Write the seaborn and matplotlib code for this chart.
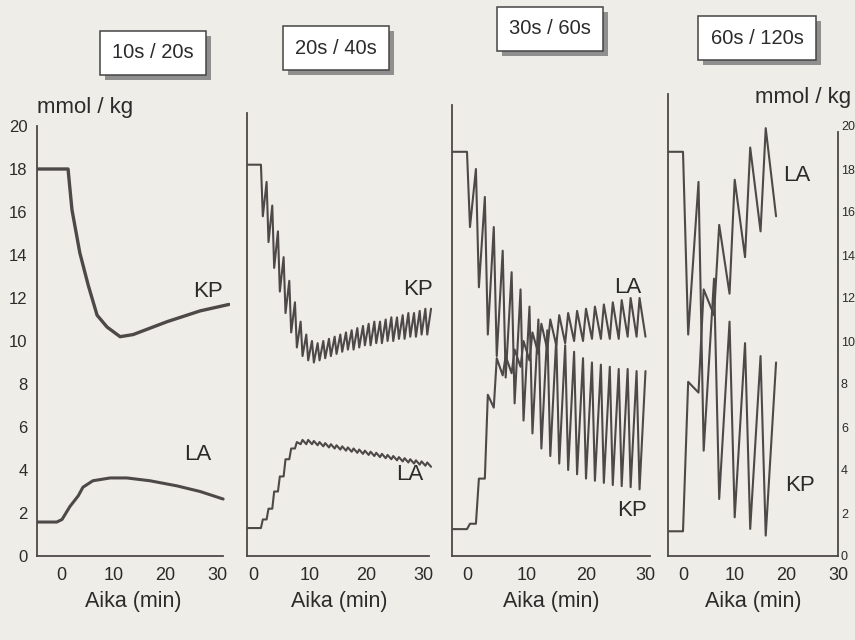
import matplotlib
matplotlib.use("Agg")
import matplotlib.pyplot as plt
import pandas as pd
import seaborn as sns
from matplotlib.patches import Rectangle
from matplotlib.ticker import MultipleLocator, FuncFormatter


# -------------------------
# Data (min, mmol/kg)
# -------------------------
panel_titles = ["10s / 20s", "20s / 40s", "30s / 60s", "60s / 120s"]
protocols = [(10 / 60, 20 / 60), (20 / 60, 40 / 60), (30 / 60, 60 / 60), (60 / 60, 120 / 60)]

# 10s / 20s: drawn as smooth curves
p1_kp_t = [-4.5, 1.35, 1.7, 2.1, 3.6, 5.2, 6.9, 8.8, 11.3, 13.8, 20.3, 26.6, 32.1]
p1_kp_v = [18.0, 18.0, 17.1, 16.1, 14.1, 12.6, 11.2, 10.65, 10.2, 10.3, 10.9, 11.4, 11.7]
p1_la_t = [-4.5, -0.8, 0.2, 1.7, 3.3, 4.2, 6.1, 9.4, 12.6, 17.0, 22.2, 26.6, 31.0]
p1_la_v = [1.58, 1.58, 1.7, 2.3, 2.8, 3.2, 3.5, 3.63, 3.63, 3.5, 3.26, 3.0, 2.65]

# 20s / 40s: values at end of each work bout / each rest bout
p2_start = 1.4
p2_kp0, p2_la0 = 18.2, 1.3
p2_kp_work = [15.8, 14.6, 13.4, 12.3, 11.3, 10.4, 9.7, 9.3, 9.1, 9.0, 9.1, 9.2, 9.3, 9.4, 9.5,
              9.6, 9.6, 9.7, 9.8, 9.8, 9.9, 9.9, 10.0, 10.0, 10.1, 10.1, 10.2, 10.2, 10.3, 10.3]
p2_kp_rest = [17.4, 16.3, 15.1, 13.9, 12.8, 11.8, 10.9, 10.3, 10.0, 9.9, 10.0, 10.1, 10.2, 10.3, 10.4,
              10.5, 10.6, 10.7, 10.8, 10.9, 10.9, 11.0, 11.1, 11.1, 11.2, 11.3, 11.3, 11.4, 11.5, 11.5]
p2_la_work = [1.7, 2.2, 3.0, 3.7, 4.5, 5.0, 5.3, 5.4, 5.4, 5.35, 5.3, 5.25, 5.2, 5.15, 5.1,
              5.05, 5.0, 4.95, 4.9, 4.85, 4.8, 4.75, 4.7, 4.65, 4.6, 4.55, 4.5, 4.45, 4.4, 4.35]
p2_la_rest = [1.7, 2.2, 3.0, 3.7, 4.5, 5.0, 5.2, 5.2, 5.2, 5.15, 5.1, 5.05, 5.0, 4.95, 4.9,
              4.85, 4.8, 4.75, 4.7, 4.65, 4.6, 4.55, 4.5, 4.45, 4.4, 4.35, 4.3, 4.25, 4.2, 4.15]

# 30s / 60s
p3_start = 0.0
p3_kp0, p3_la0 = 18.8, 1.25
p3_kp_work = [15.3, 12.5, 10.3, 9.3, 8.3, 7.1, 6.3, 5.7, 5.0, 4.65,
              4.3, 4.0, 3.8, 3.6, 3.5, 3.4, 3.3, 3.25, 3.2, 3.1]
p3_kp_rest = [18.0, 16.7, 15.3, 14.2, 13.2, 12.4, 11.6, 11.0, 10.5, 10.1,
              9.8, 9.5, 9.2, 9.0, 8.9, 8.8, 8.7, 8.7, 8.6, 8.6]
p3_la_work = [1.5, 3.6, 7.5, 9.2, 9.3, 9.6, 10.0, 10.4, 10.8, 11.0,
              11.2, 11.3, 11.4, 11.5, 11.6, 11.7, 11.8, 11.9, 12.0, 12.0]
p3_la_rest = [1.5, 3.6, 6.9, 8.4, 8.5, 8.8, 9.1, 9.4, 9.6, 9.8,
              9.9, 10.0, 10.0, 10.1, 10.1, 10.1, 10.1, 10.2, 10.2, 10.2]

# 60s / 120s
p4_start = 0.0
p4_kp0, p4_la0 = 18.8, 1.15
p4_kp_work = [10.3, 4.9, 2.65, 1.8, 1.26, 0.95]
p4_kp_rest = [17.4, 12.9, 10.9, 9.9, 9.3, 9.0]
p4_la_work = [8.1, 12.4, 15.4, 17.5, 19.0, 19.9]
p4_la_rest = [7.6, 11.2, 12.2, 13.9, 15.1, 15.8]

y_ticks = list(range(0, 21, 2))
x_labels = [0, 10, 20, 30]


# -------------------------
# Layout (pixels of the 855x640 picture)
# -------------------------
W, H = 855, 640
Y0_PX, PX_PER_UNIT, YMAX = 556, 21.5, 21.5
# x pixel of t=0, px per minute, xlim, spine top
panels_geo = [
    (61, 5.23, (-4.5, 32.3), 20.0),
    (253, 5.67, (-1.1, 31.6), 20.6),
    (467, 5.95, (-2.5, 30.8), 21.0),
    (683, 5.17, (-2.9, 30.0), 21.5),
]
title_pos = [(153, 53), (336, 48), (550, 29), (757, 38)]
label_pos = [
    [("KP", 28.1, 12.3), ("LA", 26.2, 4.7)],
    [("KP", 29.1, 12.4), ("LA", 27.7, 3.8)],
    [("LA", 27.1, 12.5), ("KP", 27.7, 2.1)],
    [("LA", 22.0, 17.7), ("KP", 22.6, 3.3)],
]

LINE = "#4d4949"
TEXT = "#2b2b2b"
PAPER = "#efede7"


def interval_series(t0, v0, xmin, work_vals, rest_vals, work_min, rest_min):
    t = [xmin, t0]
    v = [v0, v0]
    for k, (w, r) in enumerate(zip(work_vals, rest_vals)):
        c = t0 + k * (work_min + rest_min)
        t += [c + work_min, c + work_min + rest_min]
        v += [w, r]
    return t, v


def draw_line(ax, t, v, lw=1.5):
    df = pd.DataFrame({"t": t, "v": v})
    sns.lineplot(data=df, x="t", y="v", ax=ax, color=LINE, lw=lw,
                 estimator=None, sort=False, legend=False)


sns.set_theme(style="white")
plt.rcParams["font.family"] = ["Liberation Sans", "DejaVu Sans"]

fig = plt.figure(figsize=(W / 100, H / 100), dpi=100, facecolor=PAPER)

series = [
    None,
    (p2_start, p2_kp0, p2_la0, p2_kp_work, p2_kp_rest, p2_la_work, p2_la_rest),
    (p3_start, p3_kp0, p3_la0, p3_kp_work, p3_kp_rest, p3_la_work, p3_la_rest),
    (p4_start, p4_kp0, p4_la0, p4_kp_work, p4_kp_rest, p4_la_work, p4_la_rest),
]

for i, (x0, ppm, xlim, ytop) in enumerate(panels_geo):
    left = (x0 + xlim[0] * ppm) / W
    width = (xlim[1] - xlim[0]) * ppm / W
    bottom = (H - Y0_PX) / H
    height = YMAX * PX_PER_UNIT / H
    ax = fig.add_axes([left, bottom, width, height])
    ax.set_facecolor("none")
    ax.set_xlim(*xlim)
    ax.set_ylim(0, YMAX)

    if i == 0:
        draw_line(ax, p1_kp_t, p1_kp_v, lw=2.4)
        draw_line(ax, p1_la_t, p1_la_v, lw=2.2)
    else:
        t0, kp0, la0, kpw, kpr, law, lar = series[i]
        wmin, rmin = protocols[i]
        kt, kv = interval_series(t0, kp0, xlim[0], kpw, kpr, wmin, rmin)
        lt, lv = interval_series(t0, la0, xlim[0], law, lar, wmin, rmin)
        draw_line(ax, kt, kv, lw=1.5)
        draw_line(ax, lt, lv, lw=1.5)

    for name, tx, ty in label_pos[i]:
        ax.text(tx, ty, name, fontsize=16, color=TEXT, ha="center", va="center")

    for s in ["top", "right", "left", "bottom"]:
        ax.spines[s].set_visible(False)
    ax.spines["left"].set_visible(True)
    ax.spines["bottom"].set_visible(True)
    ax.spines["left"].set_bounds(0, ytop)
    ax.spines["bottom"].set_bounds(xlim[0], min(xlim[1], 31.0))
    for s in ["left", "bottom", "right"]:
        ax.spines[s].set_color(LINE)
        ax.spines[s].set_linewidth(1.3)

    ax.xaxis.set_major_locator(MultipleLocator(5))
    ax.xaxis.set_minor_locator(MultipleLocator(1))
    ax.xaxis.set_major_formatter(
        FuncFormatter(lambda val, pos: f"{int(round(val))}" if int(round(val)) in x_labels else ""))
    ax.tick_params(axis="x", which="major", direction="in", length=7, width=1.1,
                   color=LINE, labelsize=13, labelcolor=TEXT, pad=8)
    ax.tick_params(axis="x", which="minor", direction="in", length=3.5, width=1.0, color=LINE)
    ax.set_xlabel("Aika (min)", fontsize=15.5, color=TEXT, labelpad=5)
    ax.set_ylabel("")

    if i == 0:
        ax.set_yticks(y_ticks)
        ax.tick_params(axis="y", length=0, labelsize=12, labelcolor=TEXT, pad=7)
    elif i == 3:
        ax.spines["right"].set_visible(True)
        ax.spines["right"].set_position(("data", xlim[1]))
        ax.spines["right"].set_bounds(0, 19.7)
        ax.yaxis.tick_right()
        ax.set_yticks(y_ticks)
        ax.tick_params(axis="y", length=0, labelsize=9, labelcolor=TEXT, pad=2)
    else:
        ax.set_yticks([])

# panel titles in boxes, with a grey drop shadow behind each box
title_texts = []
for (px, py), title in zip(title_pos, panel_titles):
    t = fig.text(px / W, 1 - py / H, title, fontsize=14.5, color=TEXT,
                 ha="center", va="center", zorder=5,
                 bbox=dict(boxstyle="square,pad=0.6", fc="white", ec="#444444", lw=1.1))
    title_texts.append(t)

fig.canvas.draw()
renderer = fig.canvas.get_renderer()
for t in title_texts:
    bb = t.get_bbox_patch().get_window_extent(renderer)
    shadow = Rectangle(((bb.x0 + 5) / W, (bb.y0 - 5) / H), bb.width / W, bb.height / H,
                       transform=fig.transFigure, fc="#8f8f8f", ec="none", zorder=1)
    fig.add_artist(shadow)

fig.text(85 / W, 1 - 107 / H, "mmol / kg", fontsize=16, color=TEXT, ha="center", va="center")
fig.text(803 / W, 1 - 98 / H, "mmol / kg", fontsize=16, color=TEXT, ha="center", va="center")

fig.savefig("out.png", dpi=100, facecolor=PAPER)
plt.close(fig)
